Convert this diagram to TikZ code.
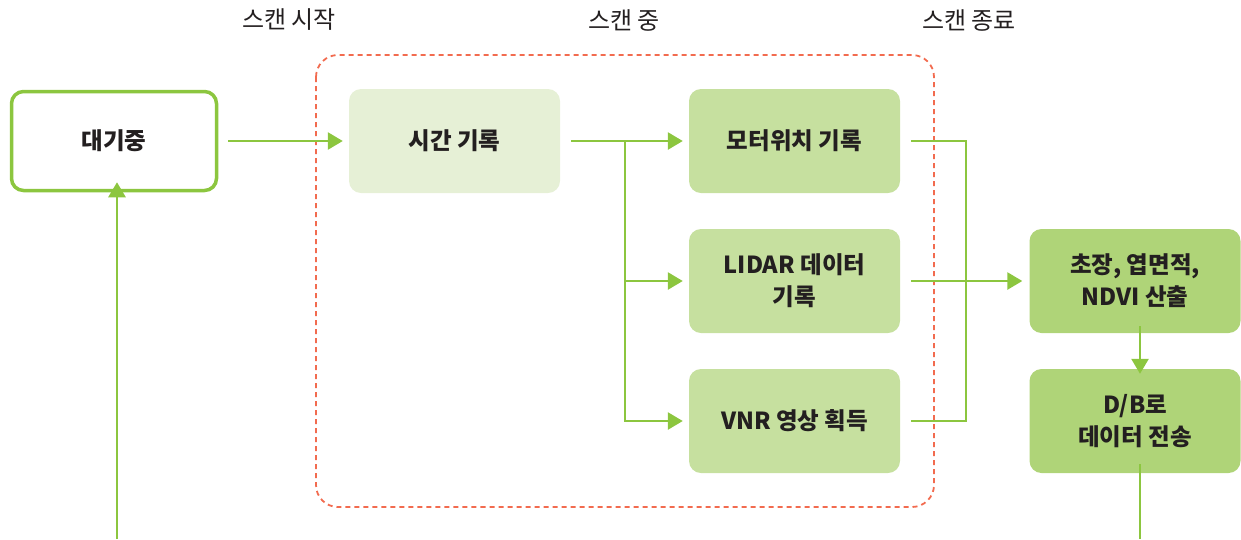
\documentclass[tikz,border=0pt]{standalone}
\usepackage{fontspec}
\setmainfont{Noto Sans CJK KR}
\usetikzlibrary{arrows.meta}
\definecolor{lg}{HTML}{8CC63F}
\definecolor{boxA}{HTML}{E6F0D6}
\definecolor{boxB}{HTML}{C6E09F}
\definecolor{boxC}{HTML}{AFD478}
\definecolor{dred}{HTML}{F26B4F}
\definecolor{txt}{HTML}{231F20}
\tikzset{
  box/.style={rounded corners=12pt, minimum width=211pt, minimum height=104pt, inner sep=0pt, align=center, font=\fontsize{23.5}{32}\selectfont\bfseries, text=txt},
  wbox/.style={box, draw=lg, line width=3.5pt, fill=white, minimum width=205pt, minimum height=99pt},
  abox/.style={box, fill=boxA},
  bbox/.style={box, fill=boxB},
  cbox/.style={box, fill=boxC},
  conn/.style={draw=lg, line width=2.6pt},
  arr/.style={conn, -{Triangle[length=15pt,width=17pt]}},
  hdr/.style={font=\fontsize{24}{26}\selectfont, text=txt},
}
\begin{document}
\begin{tikzpicture}[x=1pt,y=-1pt]
\useasboundingbox (0,0) rectangle (1241,539);
% dashed region
\draw[dred, line width=1.8pt, dash pattern=on 5pt off 4pt, rounded corners=22pt] (316,55) rectangle (934,507);
% headers
\node[hdr] (h1) at (289,20) {스캔 시작};
\node[hdr] (h2) at (624,20) {스캔 중};
\node[hdr] (h3) at (969,20) {스캔 종료};
% boxes
\node[wbox] (wait) at (114,141) {대기중};
\node[abox] (time) at (454.5,141) {시간 기록};
\node[bbox] (motor) at (794.5,141) {모터위치 기록};
\node[bbox] (lidar) at (794.5,281) {LIDAR 데이터\\기록};
\node[bbox] (vnr) at (794.5,421) {VNR 영상 획득};
\node[cbox] (calc) at (1135,281) {초장, 엽면적,\\NDVI 산출};
\node[cbox] (db) at (1135,421) {D/B로\\데이터 전송};
% coordinates
\coordinate (s1) at (625,141);
\coordinate (m1) at (966,141);
\coordinate (bL) at (117,539);
\coordinate (bR) at (1140,539);
% connectors
\draw[arr] ([xshift=10pt]wait.east) -- ([xshift=-6pt]time.west);
\draw[conn] ([xshift=11pt]time.east) -- (s1);
\draw[arr] (s1) -- ([xshift=-6pt]motor.west);
\draw[arr] (s1) |- ([xshift=-6pt]lidar.west);
\draw[arr] (s1) |- ([xshift=-6pt]vnr.west);
\draw[conn] ([xshift=11pt]motor.east) -- (m1) |- ([xshift=11pt]vnr.east);
\draw[conn] ([xshift=11pt]lidar.east) -- (m1 |- lidar.east);
\draw[arr] ([xshift=11pt]lidar.east) -- ([xshift=-7pt]calc.west);
\draw[arr] ([xshift=5pt,yshift=7pt]calc.south) -- ([xshift=5pt,yshift=-5pt]db.north);
\draw[conn] ([xshift=5pt,yshift=9pt]db.south) -- (bR);
\draw[arr] (bL) -- ([xshift=3pt,yshift=10pt]wait.south);
\end{tikzpicture}
\end{document}
